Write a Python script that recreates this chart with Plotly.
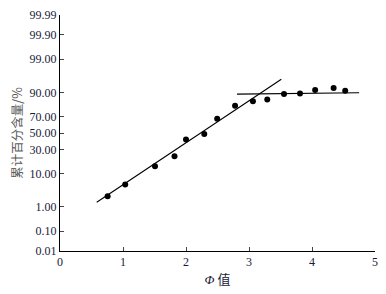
from statistics import NormalDist
import plotly.graph_objects as go

# Data (cumulative percent vs phi value)
phi = [0.756, 1.035, 1.508, 1.818, 2.0, 2.29, 2.495, 2.779, 3.062, 3.29, 3.556, 3.81, 4.05, 4.343, 4.527]
cum_pct = [2.3, 5.2, 14.7, 23.3, 42.0, 48.7, 67.4, 80.5, 84.1, 85.4, 89.0, 89.4, 91.2, 92.2, 90.9]

# Fitted lines (endpoints in phi / percent)
line1_phi = [0.583, 3.513]
line1_pct = [1.46, 95.5]
line2_phi = [2.81, 4.748]
line2_pct = [89.0, 89.8]

tick_pct = [0.01, 0.10, 1.00, 10.00, 30.00, 50.00, 70.00, 90.00, 99.00, 99.90, 99.99]
tick_text = ["0.01", "0.10", "1.00", "10.00", "30.00", "50.00", "70.00", "90.00", "99.00", "99.90", "99.99"]
x_ticks = [0, 1, 2, 3, 4, 5]

nd = NormalDist()
def z(p):
    return nd.inv_cdf(p / 100.0)

fig = go.Figure()
fig.add_trace(go.Scatter(x=line1_phi, y=[z(p) for p in line1_pct], mode="lines",
                         line=dict(color="black", width=1.1), showlegend=False))
fig.add_trace(go.Scatter(x=line2_phi, y=[z(p) for p in line2_pct], mode="lines",
                         line=dict(color="black", width=1.1), showlegend=False))
fig.add_trace(go.Scatter(x=phi, y=[z(p) for p in cum_pct], mode="markers",
                         marker=dict(color="black", size=6), showlegend=False))

font_serif = "Liberation Serif"
fig.update_layout(
    width=386, height=294,
    margin=dict(l=60, r=8, t=15, b=43),
    plot_bgcolor="white", paper_bgcolor="white",
    font=dict(family=font_serif, size=12, color="#1a1a3a"),
    xaxis=dict(range=[0, 5], tickvals=x_ticks, ticks="inside", ticklen=4,
               showline=True, linecolor="black", linewidth=1, showgrid=False, zeroline=False,
               tickfont=dict(family=font_serif, size=12),
               title=dict(text="<i>Φ</i> 值", font=dict(family="Liberation Serif, Noto Sans CJK SC", size=13), standoff=6)),
    yaxis=dict(range=[z(0.01), z(99.99)], tickvals=[z(p) for p in tick_pct], ticktext=tick_text,
               ticks="inside", ticklen=4, showline=True, linecolor="black", linewidth=1,
               showgrid=False, zeroline=False,
               tickfont=dict(family=font_serif, size=12),
               title=dict(text="累计百分含量/%", font=dict(family="Noto Sans CJK SC", size=12.5, color="#5a5a5a"), standoff=4)),
)
fig.write_html("out.html")
